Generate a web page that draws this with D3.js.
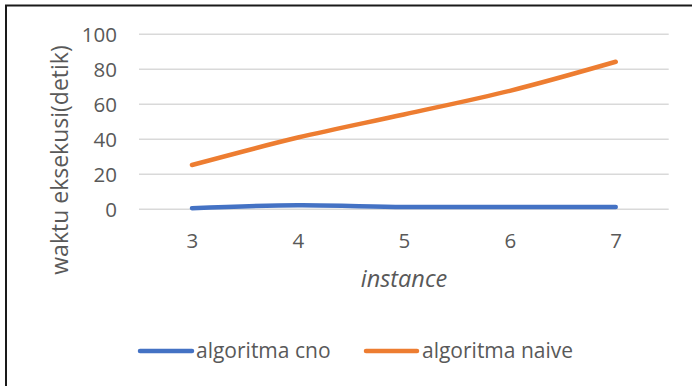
<!DOCTYPE html>
<html>
<head>
<meta charset="utf-8">
<script src="https://cdn.jsdelivr.net/npm/d3@7"></script>
<style>
  html, body { margin: 0; padding: 0; background: #fff; }
  svg { display: block; }
  text { font-family: "Open Sans", sans-serif; fill: #595959; }
</style>
</head>
<body>
<svg id="chart" width="692" height="386"></svg>
<script>
// Execution time per instance size
const instances = ["3", "4", "5", "6", "7"];
const cnoTimes = [0.6, 2.3, 1.3, 1.3, 1.3];
const naiveTimes = [25.3, 41.0, 54.2, 67.7, 84.3];
const yTicks = [0, 20, 40, 60, 80, 100];
const seriesNames = ["algoritma cno", "algoritma naive"];
const seriesColors = ["#4472C4", "#ED7D31"];

const svg = d3.select("#chart");
const W = 692, H = 386;

// chart frame (open on the right and bottom)
svg.append("path")
  .attr("d", `M6,${H} V5.5 H${W}`)
  .attr("fill", "none")
  .attr("stroke", "#1a1a1a")
  .attr("stroke-width", 2);

const plot = { left: 139, right: 668.7, top: 34.3, bottom: 209.3 };

const x = d3.scalePoint()
  .domain(instances)
  .range([plot.left, plot.right])
  .padding(0.5);

const y = d3.scaleLinear()
  .domain([0, 100])
  .range([plot.bottom, plot.top]);

// horizontal gridlines
svg.append("g")
  .selectAll("line")
  .data(yTicks)
  .join("line")
  .attr("x1", plot.left)
  .attr("x2", plot.right)
  .attr("y1", d => y(d))
  .attr("y2", d => y(d))
  .attr("stroke", "#D9D9D9")
  .attr("stroke-width", 1.6);

// y axis labels
const yAxis = d3.axisLeft(y).tickValues(yTicks).tickSize(0).tickPadding(0);
const gy = svg.append("g")
  .attr("transform", `translate(117,0)`)
  .call(yAxis);
gy.select(".domain").remove();
gy.selectAll("text")
  .attr("font-size", 20.5)
  .attr("font-family", "Open Sans, sans-serif")
  .attr("fill", "#595959")
  .attr("dy", "0.35em");

// x axis labels
const xAxis = d3.axisBottom(x).tickSize(0).tickPadding(0);
const gx = svg.append("g")
  .attr("transform", `translate(0,248)`)
  .call(xAxis);
gx.select(".domain").remove();
gx.selectAll("text")
  .attr("font-size", 20.5)
  .attr("font-family", "Open Sans, sans-serif")
  .attr("fill", "#595959")
  .attr("dy", 0);

// axis titles
svg.append("text")
  .attr("transform", "translate(68,160) rotate(-90)")
  .attr("text-anchor", "middle")
  .attr("font-size", 23)
  .text("waktu eksekusi(detik)");

svg.append("text")
  .attr("x", 404)
  .attr("y", 287)
  .attr("text-anchor", "middle")
  .attr("font-size", 23.5)
  .attr("font-style", "italic")
  .text("instance");

// series lines
const line = d3.line()
  .x((d, i) => x(instances[i]))
  .y(d => y(d))
  .curve(d3.curveCatmullRom.alpha(0.5));

[cnoTimes, naiveTimes].forEach((vals, k) => {
  svg.append("path")
    .datum(vals)
    .attr("d", line)
    .attr("fill", "none")
    .attr("stroke", seriesColors[k])
    .attr("stroke-width", 4.5)
    .attr("stroke-linecap", "round")
    .attr("stroke-linejoin", "round");
});

// legend
const legendItems = [
  { name: seriesNames[0], color: seriesColors[0], x0: 140, x1: 192, tx: 196 },
  { name: seriesNames[1], color: seriesColors[1], x0: 366, x1: 417, tx: 422 }
];
const lg = svg.append("g");
legendItems.forEach(it => {
  lg.append("line")
    .attr("x1", it.x0).attr("x2", it.x1)
    .attr("y1", 351).attr("y2", 351)
    .attr("stroke", it.color)
    .attr("stroke-width", 4.5)
    .attr("stroke-linecap", "round");
  lg.append("text")
    .attr("x", it.tx)
    .attr("y", 358)
    .attr("font-size", 21)
    .text(it.name);
});
</script>
</body>
</html>
